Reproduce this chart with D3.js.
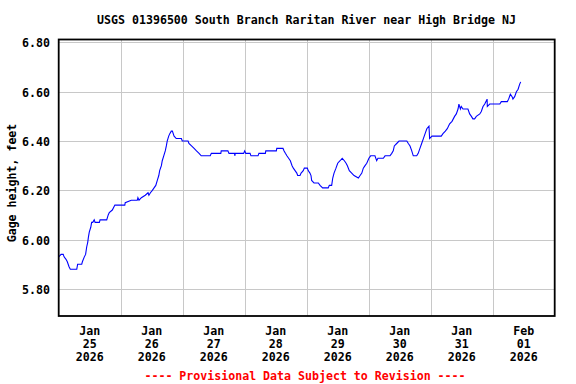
<!DOCTYPE html>
<html>
<head>
<meta charset="utf-8">
<script src="https://cdn.jsdelivr.net/npm/d3@7"></script>
<style>
  html, body { margin: 0; padding: 0; background: #fff; }
  svg { display: block; }
  text { font-family: "DejaVu Sans Mono", monospace; font-weight: bold; font-size: 11.6px; }
</style>
</head>
<body>
<svg id="chart" width="576" height="384"></svg>
<script>
const title = "USGS 01396500 South Branch Raritan River near High Bridge NJ";
const yLabel = "Gage height, feet";
const footer = "---- Provisional Data Subject to Revision ----";

const yTicks = [5.80, 6.00, 6.20, 6.40, 6.60, 6.80];
const dayTicks = ["2026-01-25","2026-01-26","2026-01-27","2026-01-28","2026-01-29","2026-01-30","2026-01-31","2026-02-01","2026-02-02"];

const times = [
"2026-01-25 00:00","2026-01-25 00:55","2026-01-25 01:45","2026-01-25 02:05","2026-01-25 02:50","2026-01-25 03:20","2026-01-25 04:00","2026-01-25 04:30","2026-01-25 07:00","2026-01-25 07:20",
"2026-01-25 08:55","2026-01-25 09:10","2026-01-25 09:55","2026-01-25 10:25","2026-01-25 10:50","2026-01-25 11:15","2026-01-25 11:30","2026-01-25 11:50","2026-01-25 12:25","2026-01-25 12:45",
"2026-01-25 13:10","2026-01-25 13:45","2026-01-25 14:05","2026-01-25 15:45","2026-01-25 16:00","2026-01-25 18:35","2026-01-25 19:10","2026-01-25 19:35","2026-01-25 20:45","2026-01-25 21:45",
"2026-01-26 01:35","2026-01-26 01:45","2026-01-26 04:05","2026-01-26 06:25","2026-01-26 06:40","2026-01-26 07:05","2026-01-26 08:00","2026-01-26 09:30","2026-01-26 10:35","2026-01-26 10:55",
"2026-01-26 11:30","2026-01-26 12:15","2026-01-26 12:55","2026-01-26 13:35","2026-01-26 14:10","2026-01-26 14:45","2026-01-26 15:05","2026-01-26 15:45","2026-01-26 16:05","2026-01-26 16:40",
"2026-01-26 17:15","2026-01-26 17:40","2026-01-26 18:00","2026-01-26 18:35","2026-01-26 19:00","2026-01-26 19:35","2026-01-26 20:00","2026-01-26 20:40","2026-01-26 21:30","2026-01-26 22:25",
"2026-01-26 23:30","2026-01-26 23:50","2026-01-27 02:05","2026-01-27 02:25","2026-01-27 03:25","2026-01-27 04:25","2026-01-27 05:20","2026-01-27 06:20","2026-01-27 07:10","2026-01-27 10:40",
"2026-01-27 11:05","2026-01-27 14:45","2026-01-27 14:55","2026-01-27 17:30","2026-01-27 17:55","2026-01-27 20:05","2026-01-27 20:10","2026-01-27 20:20","2026-01-27 23:35","2026-01-28 00:00",
"2026-01-28 00:25","2026-01-28 02:05","2026-01-28 02:25","2026-01-28 05:10","2026-01-28 05:30","2026-01-28 08:00","2026-01-28 08:10","2026-01-28 12:15","2026-01-28 12:25","2026-01-28 14:50",
"2026-01-28 15:15","2026-01-28 15:45","2026-01-28 16:20","2026-01-28 17:00","2026-01-28 17:40","2026-01-28 18:20","2026-01-28 18:50","2026-01-28 19:30","2026-01-28 20:10","2026-01-28 20:30",
"2026-01-28 21:25","2026-01-28 21:50","2026-01-28 22:40","2026-01-28 23:05","2026-01-29 00:15","2026-01-29 00:35","2026-01-29 01:15","2026-01-29 01:40","2026-01-29 01:55","2026-01-29 02:50",
"2026-01-29 04:30","2026-01-29 05:10","2026-01-29 06:10","2026-01-29 08:20","2026-01-29 08:45","2026-01-29 09:40","2026-01-29 10:05","2026-01-29 10:35","2026-01-29 11:20","2026-01-29 12:00",
"2026-01-29 12:55","2026-01-29 13:45","2026-01-29 14:35","2026-01-29 15:15","2026-01-29 15:45","2026-01-29 16:30","2026-01-29 17:25","2026-01-29 18:20","2026-01-29 20:00","2026-01-29 20:40",
"2026-01-29 21:20","2026-01-29 21:55","2026-01-29 22:35","2026-01-29 23:15","2026-01-30 00:05","2026-01-30 00:45","2026-01-30 02:25","2026-01-30 03:05","2026-01-30 03:35","2026-01-30 05:40",
"2026-01-30 06:20","2026-01-30 08:15","2026-01-30 08:55","2026-01-30 09:30","2026-01-30 09:55","2026-01-30 10:50","2026-01-30 11:45","2026-01-30 14:45","2026-01-30 15:20","2026-01-30 16:00",
"2026-01-30 16:40","2026-01-30 17:15","2026-01-30 18:35","2026-01-30 19:10","2026-01-30 19:50","2026-01-30 20:30","2026-01-30 21:10","2026-01-30 21:50","2026-01-30 22:30","2026-01-30 23:20",
"2026-01-30 23:35","2026-01-31 00:30","2026-01-31 02:10","2026-01-31 04:05","2026-01-31 04:45","2026-01-31 05:40","2026-01-31 06:25","2026-01-31 07:20","2026-01-31 08:15","2026-01-31 09:15",
"2026-01-31 09:55","2026-01-31 10:35","2026-01-31 10:55","2026-01-31 11:30","2026-01-31 11:50","2026-01-31 12:30","2026-01-31 14:25","2026-01-31 15:05","2026-01-31 15:45","2026-01-31 16:20",
"2026-01-31 17:00","2026-01-31 17:40","2026-01-31 19:00","2026-01-31 19:35","2026-01-31 20:15","2026-01-31 20:55","2026-01-31 21:50","2026-01-31 21:55","2026-01-31 22:50","2026-02-01 02:45",
"2026-02-01 03:20","2026-02-01 05:40","2026-02-01 06:10","2026-02-01 06:50","2026-02-01 07:30","2026-02-01 07:50","2026-02-01 08:30","2026-02-01 09:10","2026-02-01 09:50","2026-02-01 10:25",
"2026-02-01 10:50"
];

const gageHeight = [
5.93,5.94,5.94,5.93,5.92,5.91,5.89,5.88,5.88,5.90,
5.90,5.91,5.93,5.94,5.97,5.99,6.01,6.03,6.05,6.07,
6.07,6.08,6.07,6.07,6.08,6.08,6.10,6.11,6.12,6.14,
6.14,6.15,6.16,6.16,6.17,6.16,6.17,6.18,6.19,6.18,
6.19,6.20,6.21,6.22,6.24,6.26,6.28,6.30,6.32,6.34,
6.36,6.38,6.40,6.42,6.43,6.44,6.44,6.42,6.41,6.41,
6.41,6.40,6.40,6.39,6.38,6.37,6.36,6.35,6.34,6.34,
6.35,6.35,6.36,6.36,6.35,6.35,6.34,6.35,6.35,6.36,
6.35,6.35,6.34,6.34,6.35,6.35,6.36,6.36,6.37,6.37,
6.36,6.35,6.34,6.33,6.32,6.30,6.29,6.28,6.27,6.26,
6.26,6.27,6.28,6.29,6.29,6.28,6.27,6.26,6.24,6.23,
6.23,6.22,6.21,6.21,6.22,6.22,6.25,6.27,6.29,6.31,
6.32,6.33,6.32,6.31,6.30,6.28,6.27,6.26,6.25,6.26,
6.27,6.29,6.30,6.31,6.33,6.34,6.34,6.32,6.33,6.33,
6.34,6.34,6.35,6.36,6.38,6.39,6.40,6.40,6.39,6.38,
6.36,6.34,6.34,6.35,6.37,6.39,6.41,6.43,6.45,6.46,
6.41,6.42,6.42,6.42,6.43,6.44,6.45,6.47,6.48,6.50,
6.51,6.53,6.55,6.53,6.54,6.53,6.53,6.51,6.50,6.49,
6.49,6.50,6.51,6.52,6.54,6.55,6.57,6.54,6.55,6.55,
6.56,6.56,6.57,6.59,6.58,6.57,6.58,6.60,6.61,6.63,
6.64
];

const parseT = d3.timeParse("%Y-%m-%d %H:%M");
const parseD = d3.timeParse("%Y-%m-%d");
const data = times.map((t, i) => ({ t: parseT(t), v: gageHeight[i] }));
const days = dayTicks.map(parseD);

const mLeft = 58.7, mRight = 554.7, mTop = 39.5, mBottom = 316;

const x = d3.scaleTime().domain([days[0], days[days.length - 1]]).range([mLeft, mRight]);
const y = d3.scaleLinear().domain([5.69, 6.812]).range([mBottom, mTop]);

const svg = d3.select("#chart");

// title
svg.append("text").attr("x", 306.5).attr("y", 24).attr("text-anchor", "middle").text(title);

// grid
const grid = svg.append("g").attr("stroke", "#c8c8c8").attr("stroke-width", 1).attr("shape-rendering", "crispEdges");
grid.selectAll("line.h").data(yTicks).join("line")
  .attr("x1", mLeft).attr("x2", mRight)
  .attr("y1", d => Math.round(y(d)) + 0.5).attr("y2", d => Math.round(y(d)) + 0.5);
grid.selectAll("line.v").data(days.slice(1, -1)).join("line")
  .attr("y1", mTop).attr("y2", mBottom)
  .attr("x1", d => Math.round(x(d)) + 0.5).attr("x2", d => Math.round(x(d)) + 0.5);

// data line
const line = d3.line().x(d => x(d.t)).y(d => y(d.v));
svg.append("path").datum(data).attr("d", line)
  .attr("fill", "none").attr("stroke", "#0000ff").attr("stroke-width", 1.1).attr("stroke-linejoin", "miter");

// border
svg.append("rect").attr("x", mLeft).attr("y", mTop).attr("width", mRight - mLeft).attr("height", mBottom - mTop)
  .attr("fill", "none").attr("stroke", "#000").attr("stroke-width", 1.8);

// y tick labels
svg.append("g").selectAll("text").data(yTicks).join("text")
  .attr("x", 50).attr("y", d => y(d) + 5).attr("text-anchor", "end")
  .text(d3.format(".2f"));

// y axis label
svg.append("text").attr("transform", "translate(15.5,183) rotate(-90)").attr("text-anchor", "middle").text(yLabel);

// x labels at noon of each day
const fmtM = d3.timeFormat("%b"), fmtD = d3.timeFormat("%d"), fmtY = d3.timeFormat("%Y");
const xl = svg.append("g").selectAll("text").data(days.slice(0, -1)).join("text")
  .attr("text-anchor", "middle");
xl.each(function(d) {
  const cx = x(d3.timeHour.offset(d, 12));
  const t = d3.select(this);
  t.append("tspan").attr("x", cx).attr("y", 334.5).text(fmtM(d));
  t.append("tspan").attr("x", cx).attr("y", 347.5).text(fmtD(d));
  t.append("tspan").attr("x", cx).attr("y", 360.5).text(fmtY(d));
});

// footer
svg.append("text").attr("x", 305).attr("y", 380).attr("text-anchor", "middle").attr("fill", "#ff0000").text(footer);
</script>
</body>
</html>
